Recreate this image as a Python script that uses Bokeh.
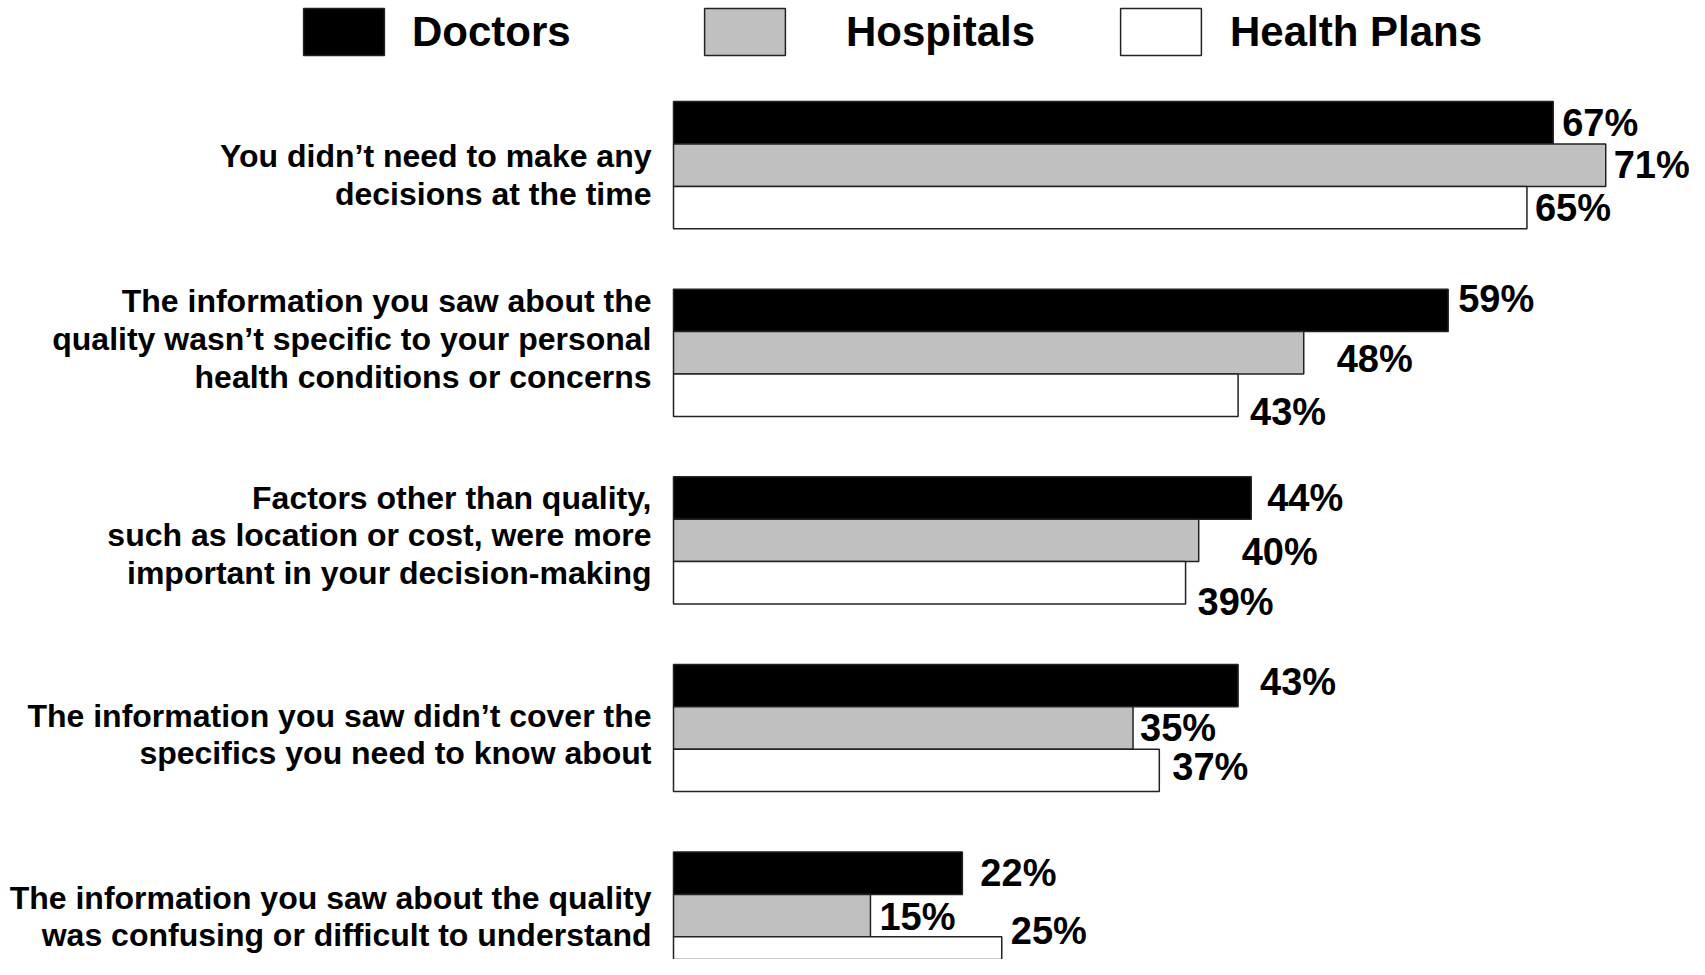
from bokeh.plotting import figure
from bokeh.models import Range1d, Legend, LegendItem, ColumnDataSource
from bokeh.core.properties import value
from bokeh.embed import file_html
from bokeh.resources import INLINE

# ---------------- data ----------------
categories = [
    "You didn\u2019t need to make any\ndecisions at the time",
    "The information you saw about the\nquality wasn\u2019t specific to your personal\nhealth conditions or concerns",
    "Factors other than quality,\nsuch as location or cost, were more\nimportant in your decision-making",
    "The information you saw didn\u2019t cover the\nspecifics you need to know about",
    "The information you saw about the quality\nwas confusing or difficult to understand",
]
series = ["Doctors", "Hospitals", "Health Plans"]
doctors = [67, 59, 44, 43, 22]
hospitals = [71, 48, 40, 35, 15]
health_plans = [65, 43, 39, 37, 25]

# ---------------- styles / layout ----------------
fills = ["#000000", "#C0C0C0", "#FFFFFF"]
FONT_NAME = "Liberation Sans"
FONT = value(FONT_NAME)
W, H = 1689, 959
PX_PER_PCT = 13.13
BAR_X0 = 673.0
GROUP_TOP0 = 101.1
GROUP_STEP = 187.6
BAR_H = 42.4

# per-label manual nudges in pixels (value labels), as in the original slide
label_dx = [[9, 8, 8], [10, 33, 12], [16, 43, 12], [22, 7, 13], [18, 9, 9]]
label_dy = [[0, 0, 0], [-11, 6, 17], [0, 12, 19], [-4, 0, -3], [0, 1, -27]]
cat_dy = [10, -14, -5, 6.5, 1]
CAT_GAP = 22

p = figure(width=W, height=H, output_backend="svg", toolbar_location=None,
           x_range=Range1d(-BAR_X0 / PX_PER_PCT, (W - BAR_X0) / PX_PER_PCT),
           y_range=Range1d(H, 0), min_border=0)
p.axis.visible = False
p.grid.visible = False
p.outline_line_color = None
p.background_fill_color = "white"
p.border_fill_color = "white"

values = [doctors, hospitals, health_plans]
renderers = []
lab_x, lab_y, lab_t = [], [], []
for j, (name, vals) in enumerate(zip(series, values)):
    ys = [GROUP_TOP0 + i * GROUP_STEP + (j + 0.5) * BAR_H for i in range(len(categories))]
    src = ColumnDataSource(dict(y=ys, right=vals))
    r = p.hbar(y="y", left=0, right="right", height=BAR_H, source=src,
               fill_color=fills[j], line_color="#222222", line_width=1.5)
    renderers.append(r)
    for i, v in enumerate(vals):
        lab_x.append(v + label_dx[i][j] / PX_PER_PCT)
        lab_y.append(ys[i] + label_dy[i][j])
        lab_t.append(f"{v}%")

p.text(x=lab_x, y=lab_y, text=lab_t, text_font=FONT, text_font_style="bold",
       text_font_size="38px", text_align="left", text_baseline="middle", text_color="black")

cx = [-CAT_GAP / PX_PER_PCT] * len(categories)
cy = [GROUP_TOP0 + i * GROUP_STEP + 1.5 * BAR_H + cat_dy[i] for i in range(len(categories))]
p.text(x=cx, y=cy, text=categories, text_font=FONT, text_font_style="bold",
       text_font_size="32px", text_align="right", text_baseline="middle",
       text_line_height=1.05, text_color="black")

# legend swatches: bokeh insets the area glyph by 10% of the glyph box
GLYPH_W, GLYPH_H = 101, 59
legend_x = [293, 694, 1110]
standoffs = [18, 51, 19]
for j, name in enumerate(series):
    lg = Legend(items=[LegendItem(label=name, renderers=[renderers[j]])],
                location=(legend_x[j], H - 2 - GLYPH_H), orientation="horizontal",
                glyph_width=GLYPH_W, glyph_height=GLYPH_H, label_standoff=standoffs[j],
                label_text_font=FONT_NAME, label_text_font_style="bold",
                label_text_font_size="42px", label_text_color="black", label_height=GLYPH_H,
                padding=0, margin=0, spacing=0,
                border_line_color=None, background_fill_alpha=0)
    p.add_layout(lg)

open("out.html", "w").write(file_html(p, INLINE))
